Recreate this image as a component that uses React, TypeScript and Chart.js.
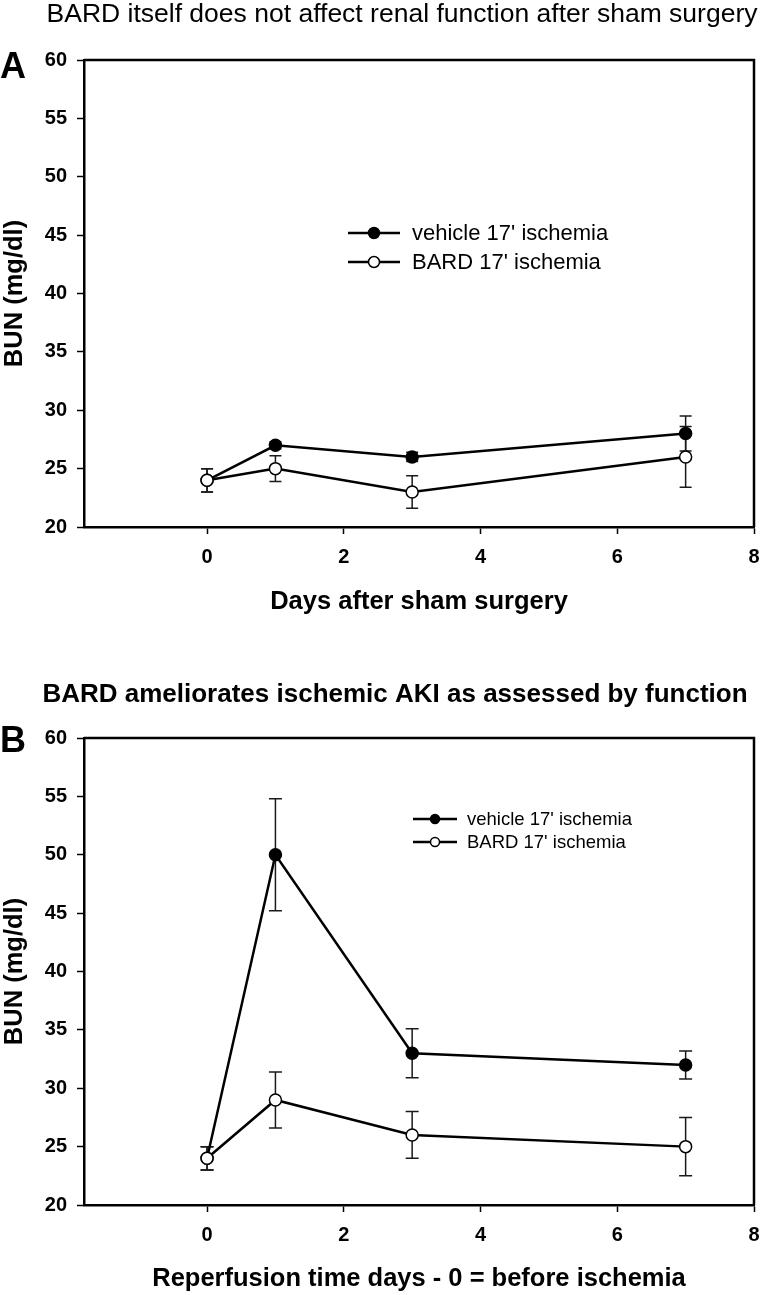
import React, { useEffect, useRef } from 'react';
import { Chart, registerables } from 'chart.js';

Chart.register(...registerables);

const FONT = '"Liberation Sans", Arial, Helvetica, sans-serif';

// ---------- data ----------
const days = [0, 1, 3, 7];
const xTickValues = [0, 2, 4, 6, 8];
const seriesLabels = ["vehicle 17' ischemia", "BARD 17' ischemia"];

// Panel A: sham surgery
const shamVehicle = [24, 27, 26, 28];
const shamVehicleErr = [1.0, 0.3, 0.4, 1.5];
const shamBard = [24, 25, 23, 26];
const shamBardErr = [1.0, 1.1, 1.4, 2.6];

// Panel B: ischemia / reperfusion
const iriVehicle = [24, 50, 33, 32];
const iriVehicleErr = [1.0, 4.8, 2.1, 1.2];
const iriBard = [24, 29, 26, 25];
const iriBardErr = [1.0, 2.4, 2.0, 2.5];

const yMin = 20;
const yMax = 60;
const yStep = 5;
const xMin = -1.8;
const xMax = 8;

type PanelSpec = {
  height: number;
  plotTop: number;
  xAxisHeight: number;
  xTitlePad: number;
  letter: string;
  letterBaseline: number;
  title: string;
  titleBold: boolean;
  titleSize: number;
  titleX: number;
  titleBaseline: number;
  xTitle: string;
  vehicle: number[];
  vehicleErr: number[];
  bard: number[];
  bardErr: number[];
  legend: { x1: number; x2: number; tx: number; y: number; gap: number; size: number; r: number };
  capHalf: number;
};

const panels: PanelSpec[] = [
  {
    height: 640,
    plotTop: 60,
    xAxisHeight: 113,
    xTitlePad: 23,
    letter: 'A',
    letterBaseline: 78,
    title: 'BARD itself does not affect renal function after sham surgery',
    titleBold: false,
    titleSize: 26.5,
    titleX: 402,
    titleBaseline: 22,
    xTitle: 'Days after sham surgery',
    vehicle: shamVehicle,
    vehicleErr: shamVehicleErr,
    bard: shamBard,
    bardErr: shamBardErr,
    legend: { x1: 348, x2: 400, tx: 412, y: 233, gap: 29, size: 22, r: 5.5 },
    capHalf: 6,
  },
  {
    height: 655,
    plotTop: 98,
    xAxisHeight: 90,
    xTitlePad: 1,
    letter: 'B',
    letterBaseline: 112,
    title: 'BARD ameliorates ischemic AKI as assessed by function',
    titleBold: true,
    titleSize: 26,
    titleX: 395,
    titleBaseline: 62,
    xTitle: 'Reperfusion time days - 0 = before ischemia',
    vehicle: iriVehicle,
    vehicleErr: iriVehicleErr,
    bard: iriBard,
    bardErr: iriBardErr,
    legend: { x1: 413, x2: 457, tx: 467, y: 179, gap: 23, size: 18.5, r: 4.5 },
    capHalf: 6.5,
  },
];

function makeConfig(spec: PanelSpec): any {
  const errorBars = {
    id: 'errorBars',
    beforeDatasetsDraw(chart: any) {
      const { ctx } = chart;
      const xs = chart.scales.x;
      const ys = chart.scales.y;
      ctx.save();
      ctx.strokeStyle = '#1a1a1a';
      ctx.lineWidth = 1.5;
      chart.data.datasets.forEach((ds: any) => {
        ds.data.forEach((pt: any, i: number) => {
          const e = ds.errors[i];
          const px = xs.getPixelForValue(pt.x);
          const top = ys.getPixelForValue(pt.y + e);
          const bot = ys.getPixelForValue(pt.y - e);
          ctx.beginPath();
          ctx.moveTo(px, top);
          ctx.lineTo(px, bot);
          ctx.moveTo(px - spec.capHalf, top);
          ctx.lineTo(px + spec.capHalf, top);
          ctx.moveTo(px - spec.capHalf, bot);
          ctx.lineTo(px + spec.capHalf, bot);
          ctx.stroke();
        });
      });
      ctx.restore();
    },
  };

  const frame = {
    id: 'frame',
    afterDatasetsDraw(chart: any) {
      const { ctx, chartArea } = chart;
      ctx.save();
      ctx.strokeStyle = '#000';
      ctx.lineWidth = 2.5;
      ctx.beginPath();
      ctx.moveTo(chartArea.left, chartArea.top);
      ctx.lineTo(chartArea.right, chartArea.top);
      ctx.lineTo(chartArea.right, chartArea.bottom);
      ctx.stroke();
      ctx.restore();
    },
  };

  const texts = {
    id: 'texts',
    afterDraw(chart: any) {
      const { ctx } = chart;
      ctx.save();
      ctx.fillStyle = '#000';
      // title
      ctx.font = `${spec.titleBold ? 'bold ' : ''}${spec.titleSize}px ${FONT}`;
      ctx.textAlign = 'center';
      ctx.textBaseline = 'alphabetic';
      ctx.fillText(spec.title, spec.titleX, spec.titleBaseline);
      // panel letter
      ctx.font = `bold 36px ${FONT}`;
      ctx.textAlign = 'left';
      ctx.fillText(spec.letter, 0, spec.letterBaseline);
      // legend
      const L = spec.legend;
      chart.data.datasets.forEach((ds: any, i: number) => {
        const y = L.y + i * L.gap;
        ctx.strokeStyle = '#000';
        ctx.lineWidth = 2.5;
        ctx.beginPath();
        ctx.moveTo(L.x1, y);
        ctx.lineTo(L.x2, y);
        ctx.stroke();
        ctx.beginPath();
        ctx.arc((L.x1 + L.x2) / 2, y, L.r, 0, Math.PI * 2);
        ctx.fillStyle = ds.pointBackgroundColor;
        ctx.fill();
        ctx.lineWidth = 1.5;
        ctx.stroke();
        ctx.fillStyle = '#000';
        ctx.font = `${L.size}px ${FONT}`;
        ctx.textAlign = 'left';
        ctx.textBaseline = 'middle';
        ctx.fillText(ds.label, L.tx, y + 1);
      });
      ctx.restore();
    },
  };

  const tickFont = { family: FONT, size: 20, weight: 'bold' as const };
  const titleFont = { family: FONT, size: 25.5, weight: 'bold' as const };

  return {
    type: 'line',
    data: {
      datasets: [
        {
          label: seriesLabels[0],
          data: days.map((d, i) => ({ x: d, y: spec.vehicle[i] })),
          errors: spec.vehicleErr,
          borderColor: '#000',
          borderWidth: 2.5,
          pointRadius: 6,
          pointBackgroundColor: '#000',
          pointBorderColor: '#000',
          pointBorderWidth: 1.5,
          tension: 0,
          order: 1,
        },
        {
          label: seriesLabels[1],
          data: days.map((d, i) => ({ x: d, y: spec.bard[i] })),
          errors: spec.bardErr,
          borderColor: '#000',
          borderWidth: 2.5,
          pointRadius: 6,
          pointBackgroundColor: '#fff',
          pointBorderColor: '#000',
          pointBorderWidth: 1.5,
          tension: 0,
          order: 0,
        },
      ],
    },
    options: {
      animation: false,
      responsive: false,
      events: [],
      layout: { padding: { top: spec.plotTop, right: 9, left: 0, bottom: 0 } },
      plugins: {
        legend: { display: false },
        title: { display: false },
        tooltip: { enabled: false },
      },
      scales: {
        x: {
          type: 'linear',
          min: xMin,
          max: xMax,
          afterBuildTicks: (axis: any) => {
            axis.ticks = xTickValues.map((v) => ({ value: v }));
          },
          afterFit: (scale: any) => {
            scale.height = spec.xAxisHeight;
            scale.paddingLeft = 0;
            scale.paddingRight = 0;
          },
          grid: { drawOnChartArea: false, drawTicks: true, tickLength: 7, tickWidth: 1.5, tickColor: '#000' },
          border: { display: true, color: '#000', width: 2.5 },
          ticks: { color: '#000', font: tickFont, padding: 11, maxRotation: 0 },
          title: {
            display: true,
            text: spec.xTitle,
            color: '#000',
            font: titleFont,
            padding: { top: 0, bottom: spec.xTitlePad },
          },
        },
        y: {
          type: 'linear',
          min: yMin,
          max: yMax,
          afterFit: (scale: any) => {
            scale.width = 84;
          },
          grid: { drawOnChartArea: false, drawTicks: true, tickLength: 7, tickWidth: 1.5, tickColor: '#000' },
          border: { display: true, color: '#000', width: 2.5 },
          ticks: { stepSize: yStep, color: '#000', font: tickFont, padding: 10 },
          title: {
            display: true,
            text: 'BUN (mg/dl)',
            color: '#000',
            font: titleFont,
            padding: { top: 0, bottom: 0 },
          },
        },
      },
    },
    plugins: [errorBars, frame, texts],
  };
}

function Panel({ spec }: { spec: PanelSpec }) {
  const ref = useRef<HTMLCanvasElement>(null);
  useEffect(() => {
    if (!ref.current) return;
    const chart = new Chart(ref.current, makeConfig(spec));
    return () => chart.destroy();
  }, [spec]);
  return (
    <canvas
      ref={ref}
      width={763}
      height={spec.height}
      style={{ display: 'block', width: 763, height: spec.height }}
    />
  );
}

export default function App() {
  useEffect(() => {
    document.body.style.margin = '0';
    document.body.style.background = '#fff';
  }, []);
  return (
    <div style={{ width: 763, background: '#fff' }}>
      {panels.map((p) => (
        <Panel key={p.letter} spec={p} />
      ))}
    </div>
  );
}
